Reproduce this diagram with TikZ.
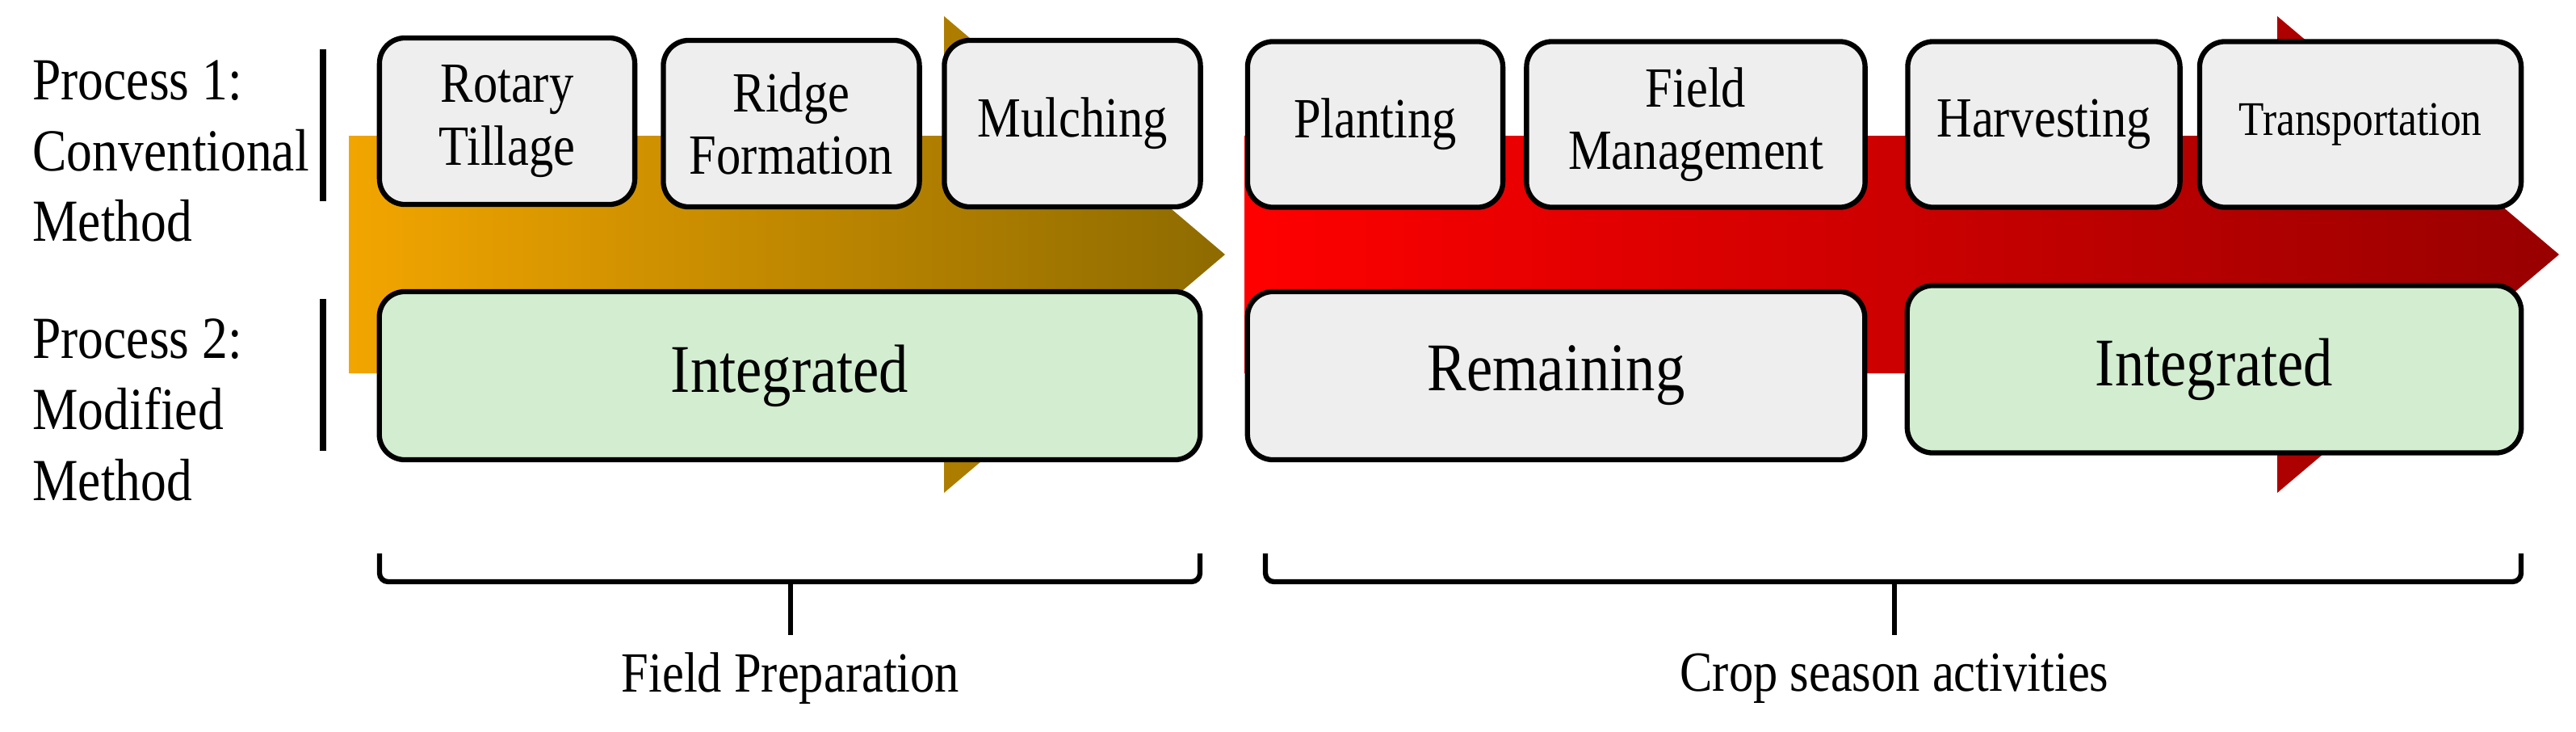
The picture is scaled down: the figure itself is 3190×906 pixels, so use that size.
\documentclass[tikz,border=0pt]{standalone}
\usepackage{fontspec}
\setmainfont{Liberation Serif}[FakeStretch=0.86]
\begin{document}
\begin{tikzpicture}[x=0.01cm,y=-0.01cm,
  box/.style={draw=black,line width=1.8pt,rounded corners=9pt,fill=gray!13,inner sep=0pt,font=\fontsize{20}{22}\selectfont,align=center},
  grn/.style={box,fill=gboxc,font=\fontsize{24}{26}\selectfont},
  lbl/.style={font=\fontsize{21}{25}\selectfont,align=left,anchor=west},
  brace/.style={line width=1.8pt,rounded corners=3pt},
  bar/.style={line width=2.2pt}]
\definecolor{gboxc}{HTML}{D3EDD0}
\definecolor{orA}{HTML}{F2A500}
\definecolor{orB}{HTML}{8E6B00}
\definecolor{rdA}{HTML}{FF0000}
\definecolor{rdB}{HTML}{980000}
\path[use as bounding box] (0,0) rectangle (3190,906);
% arrows
\shade[left color=orA,right color=orB] (432,168) -- (1169,168) -- (1169,20) -- (1517,315) -- (1169,610) -- (1169,462) -- (432,462) -- cycle;
\shade[left color=rdA,right color=rdB] (1541,168) -- (2820,168) -- (2820,20) -- (3169,315) -- (2820,610) -- (2820,462) -- (1541,462) -- cycle;
% left labels
\node[lbl] (p1) at (28,187) {Process 1:\\Conventional\\Method};
\node[lbl] (p2) at (28,507) {Process 2:\\Modified\\Method};
\coordinate (b1a) at (400,61); \coordinate (b1b) at (400,249);
\coordinate (b2a) at (400,370); \coordinate (b2b) at (400,558);
\draw[bar] (b1a) -- (b1b);
\draw[bar] (b2a) -- (b2b);
% top boxes
\node[box,minimum width=3.16cm,minimum height=2.06cm] (rt) at (628,150) {Rotary\\Tillage};
\node[box,minimum width=3.17cm,minimum height=2.06cm] (rf) at (980,153) {Ridge\\Formation};
\node[box,minimum width=3.17cm,minimum height=2.06cm] (mu) at (1328,153) {Mulching};
\node[box,minimum width=3.16cm,minimum height=2.05cm] (pl) at (1703,154) {Planting};
\node[box,minimum width=4.19cm,minimum height=2.05cm] (fm) at (2100,154) {Field\\Management};
\node[box,minimum width=3.37cm,minimum height=2.05cm] (hv) at (2531,154) {Harvesting};
\node[box,minimum width=3.98cm,minimum height=2.05cm,font=\fontsize{17}{20}\selectfont] (tr) at (2923,154) {Transportation};
% bottom boxes
\node[grn,minimum width=10.16cm,minimum height=2.08cm] (i1) at (978,465) {Integrated};
\node[box,minimum width=7.64cm,minimum height=2.08cm,font=\fontsize{24}{26}\selectfont] (rm) at (1927,465) {Remaining};
\node[grn,minimum width=7.6cm,minimum height=2.07cm] (i2) at (2742,457) {Integrated};
% braces
\draw[brace] (470,685) -- (470,720) -- (1486,720) -- (1486,685);
\draw[brace] (979,720) -- (979,786);
\draw[brace] (1567,685) -- (1567,720) -- (3122,720) -- (3122,685);
\draw[brace] (2346,720) -- (2346,786);
\node[font=\fontsize{20}{24}\selectfont] (fp) at (979,840) {Field Preparation};
\node[font=\fontsize{20}{24}\selectfont] (cs) at (2346,840) {Crop season activities};
\end{tikzpicture}
\end{document}
